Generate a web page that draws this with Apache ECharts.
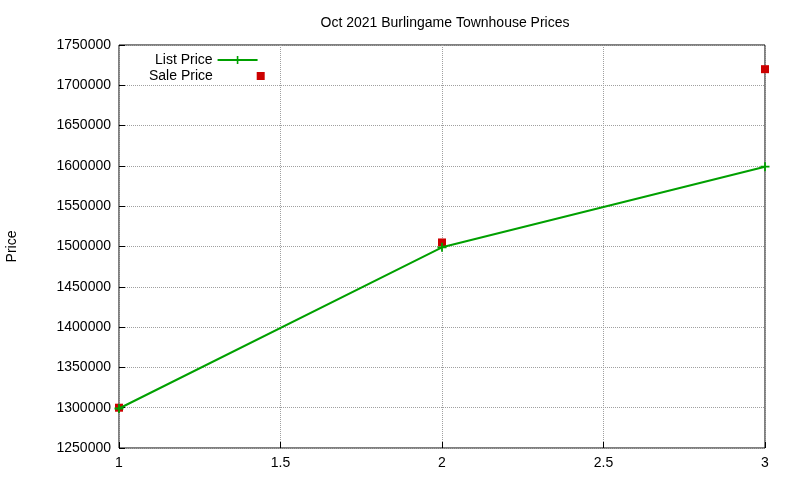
<!DOCTYPE html>
<html><head><meta charset="utf-8">
<script src="https://cdn.jsdelivr.net/npm/echarts@6/dist/echarts.min.js"></script>
<style>html,body{margin:0;padding:0;background:#fff}#c{width:800px;height:480px}</style>
</head><body><div id="c"></div>
<script>
const xs = [1, 2, 3];
const listPrice = [1299000, 1499000, 1599000];
const salePrice = [1300000, 1505000, 1720000];
const title = 'Oct 2021 Burlingame Townhouse Prices';
const plus = 'path://M4,0H6V4H10V6H6V10H4V6H0V4H4Z';
const chart = echarts.init(document.getElementById('c'));
const font = 'Liberation Sans, Arial, sans-serif';
const lt = {fontSize: 14, color: '#000', fontFamily: font};
chart.setOption({
  animation: false,
  title: {text: title, left: 440, top: 11, textAlign: 'center',
    textStyle: {fontSize: 14, fontWeight: 'normal', color: '#000', fontFamily: font}},
  legend: [
    {left: 150, top: 48, align: 'right', itemWidth: 40, itemHeight: 10, textStyle: lt,
      data: [{name: 'List Price'}]},
    {left: 144, top: 64, align: 'right', itemWidth: 8, itemHeight: 8, itemGap: 0, textStyle: lt,
      formatter: n => n + '          ',
      data: [{name: 'Sale Price', icon: 'rect'}]}
  ],
  grid: {left: 119, right: 35, top: 45, bottom: 32, containLabel: false, outerBoundsMode: 'none',
    show: true, borderColor: '#000', borderWidth: 1},
  xAxis: {type: 'value', min: 1, max: 3, interval: 0.5,
    axisLine: {show: false}, axisTick: {inside: true, length: 6, lineStyle: {color: '#000'}},
    axisLabel: {fontSize: 14, color: '#000', fontFamily: font, margin: 8},
    splitLine: {lineStyle: {type: 'dotted', color: '#a0a0a0'}}},
  yAxis: {type: 'value', min: 1250000, max: 1750000, interval: 50000, name: 'Price',
    nameLocation: 'middle', nameGap: 100, nameTextStyle: {fontSize: 14, color: '#000', fontFamily: font},
    axisLine: {show: false}, axisTick: {inside: true, length: 6, lineStyle: {color: '#000'}},
    axisLabel: {fontSize: 14, color: '#000', fontFamily: font, margin: 8, formatter: v => String(v)},
    splitLine: {lineStyle: {type: 'dotted', color: '#a0a0a0'}}},
  series: [
    {name: 'List Price', type: 'line', data: xs.map((x, i) => [x, listPrice[i]]),
      symbol: plus, symbolSize: 9, color: '#00a000', lineStyle: {width: 2, color: '#00a000'}},
    {name: 'Sale Price', type: 'scatter', data: xs.map((x, i) => [x, salePrice[i]]),
      symbol: 'rect', symbolSize: 8, itemStyle: {color: '#cc0000', opacity: 1}}
  ]
});
</script></body></html>
